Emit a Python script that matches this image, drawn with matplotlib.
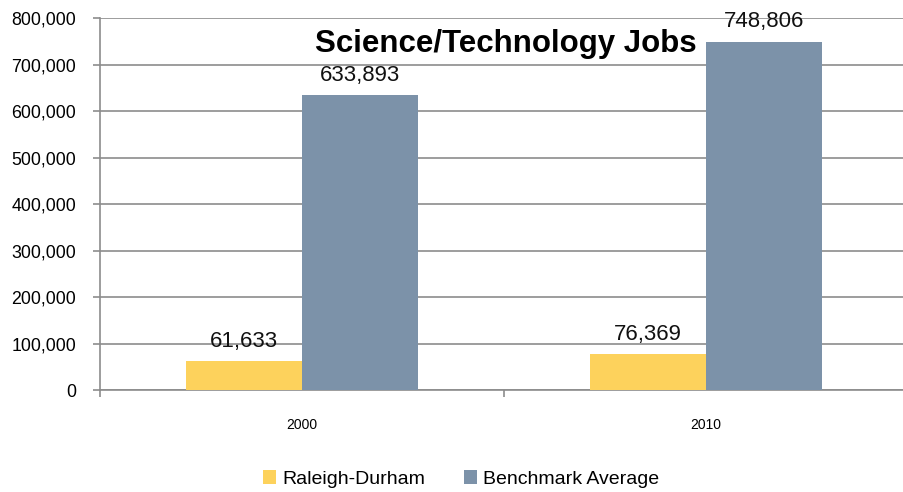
import matplotlib.pyplot as plt
import numpy as np

plt.rcParams['font.family'] = ['Liberation Sans', 'DejaVu Sans']

# Data
years = ['2000', '2010']
raleigh = [61633, 76369]
benchmark = [633893, 748806]
series_names = ['Raleigh-Durham', 'Benchmark Average']
colors = {'Raleigh-Durham': '#FDD25C', 'Benchmark Average': '#7C92A9'}

fig = plt.figure(figsize=(9.04, 4.92), dpi=100)
ax = fig.add_axes([0.1106, 0.2073, 0.8934, 0.7561])

x = np.arange(len(years))
w = 0.287
b1 = ax.bar(x - w / 2, raleigh, w, color=colors['Raleigh-Durham'], label=series_names[0], zorder=3)
b2 = ax.bar(x + w / 2, benchmark, w, color=colors['Benchmark Average'], label=series_names[1], zorder=3)

for bars in (b1, b2):
    for rect in bars:
        ax.annotate(f"{int(rect.get_height()):,}",
                    (rect.get_x() + rect.get_width() / 2, rect.get_height()),
                    xytext=(0, 7), textcoords='offset points',
                    ha='center', va='bottom', fontsize=16, color='#111111', zorder=5)

ax.set_xlim(-0.5, 1.5)
ax.set_ylim(0, 800000)
ax.set_yticks(np.arange(0, 800001, 100000))
ax.yaxis.set_major_formatter(plt.FuncFormatter(lambda v, p: f"{int(v):,}"))
ax.grid(axis='y', color='#8C8C8C', linewidth=1.2, zorder=0)

ax.set_xticks(x)
ax.set_xticklabels(years, fontsize=10)
ax.set_xticks([-0.5, 0.5, 1.5], minor=True)
ax.tick_params(axis='x', which='major', length=0, pad=20)
ax.tick_params(axis='x', which='minor', length=5, color='#8C8C8C', width=1.2)
ax.tick_params(axis='y', labelsize=12.8, length=5, color='#8C8C8C', width=1.2, pad=12)

for s in ['top', 'right']:
    ax.spines[s].set_visible(False)
ax.spines['left'].set_color('#8C8C8C')
ax.spines['left'].set_linewidth(1.2)
ax.spines['bottom'].set_color('#8C8C8C')
ax.spines['bottom'].set_linewidth(1.2)

ax.text(0.503, 0.93, 'Science/Technology Jobs', transform=ax.transAxes,
        ha='center', va='center', fontsize=22.5, fontweight='bold', zorder=6)

leg = fig.legend(handles=[b1, b2], labels=series_names, loc='center',
                 bbox_to_anchor=(0.51, 0.026), ncol=2, frameon=False,
                 fontsize=14, handlelength=0.7, handleheight=0.7,
                 handletextpad=0.3, columnspacing=2.0)

plt.savefig('out.png', dpi=100)
